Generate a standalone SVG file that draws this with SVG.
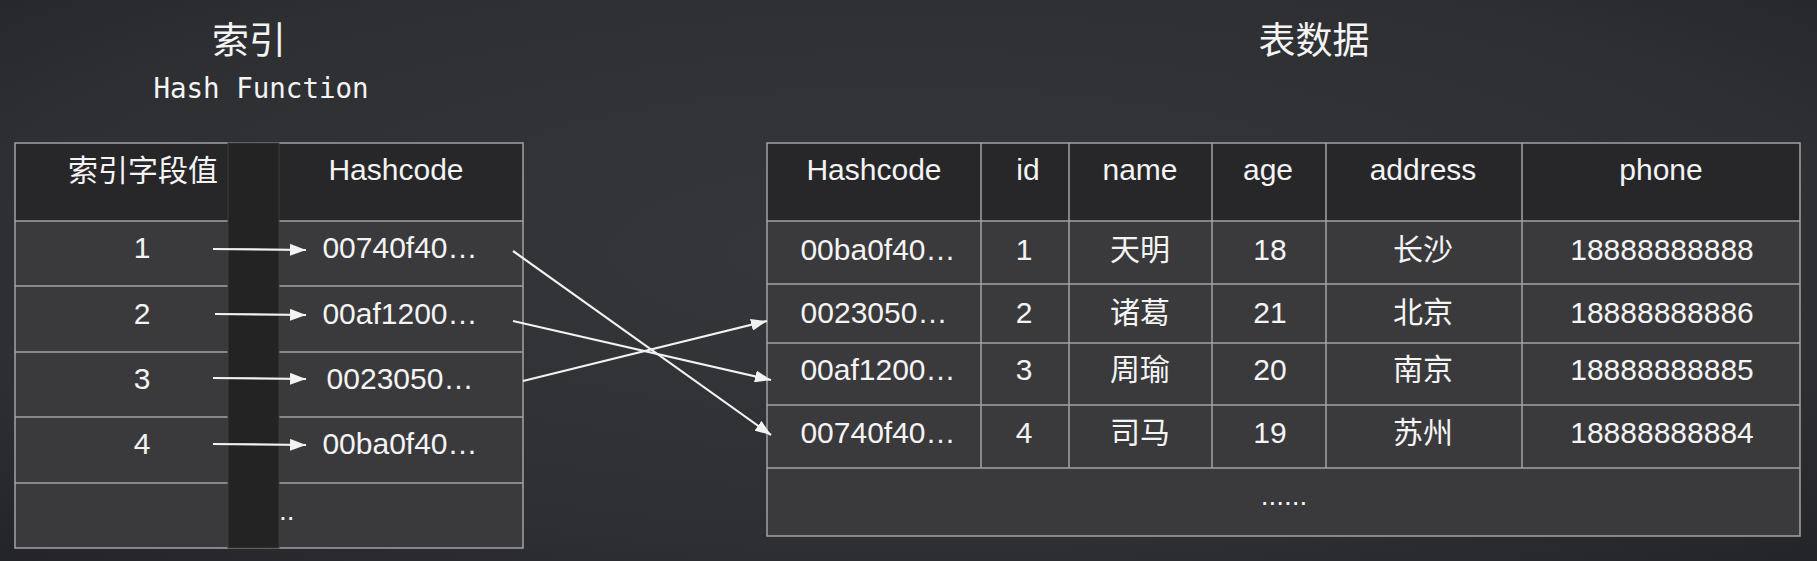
<svg xmlns="http://www.w3.org/2000/svg" width="1817" height="561" viewBox="0 0 1817 561">
<defs>
  <radialGradient id="bg" cx="50%" cy="45%" r="75%">
    <stop offset="0" stop-color="#36373b"/>
    <stop offset="0.7" stop-color="#2e2f33"/>
    <stop offset="1" stop-color="#232428"/>
  </radialGradient>
  <marker id="ah" markerWidth="16" markerHeight="12" refX="16" refY="6" orient="auto" markerUnits="userSpaceOnUse">
    <path d="M0,0 L16,6 L0,12 z" fill="#f2f2f2"/>
  </marker>
</defs>
<style>
  .hdr{fill:#27272a}
  .row{fill:#3a3a3d}
  .grid{stroke:#a3a3a6;stroke-width:1.5;fill:none}
  .t{font-family:"Liberation Sans",Arial,"Noto Sans CJK SC",sans-serif;font-size:30px;fill:#f4f4f4;text-anchor:middle}
  .title{font-family:"Noto Sans CJK SC",sans-serif;font-size:37px;fill:#f4f4f4;text-anchor:middle}
  .mono{font-family:"DejaVu Sans Mono",monospace;font-size:27.5px;fill:#f4f4f4;text-anchor:middle}
  .conn{stroke:#f2f2f2;stroke-width:2.2;fill:none;marker-end:url(#ah)}
  .bar{fill:#232323;stroke:#3c3c3c;stroke-width:1}
</style>
<rect width="1817" height="561" fill="url(#bg)"/>

<g id="title-index">
  <text class="title" x="249" y="54">索引</text>
  <text class="mono" x="261" y="98">Hash Function</text>
</g>
<g id="title-table">
  <text class="title" x="1314" y="54">表数据</text>
</g>

<g id="index-table">
  <rect class="hdr" x="15" y="143" width="508" height="78"/>
  <rect class="row" x="15" y="221" width="508" height="327"/>
  <rect class="grid" x="15" y="143" width="508" height="405"/>
  <path class="grid" d="M15,221H523M15,286H523M15,352H523M15,417H523M15,483H523"/>
  <g id="index-header">
    <text class="t" x="143" y="181">索引字段值</text>
    <text class="t" x="396" y="180">Hashcode</text>
  </g>
  <g id="index-row-1">
    <text class="t" x="142" y="258">1</text>
    <text class="t" x="400" y="258">00740f40…</text>
  </g>
  <g id="index-row-2">
    <text class="t" x="142" y="324">2</text>
    <text class="t" x="400" y="324">00af1200…</text>
  </g>
  <g id="index-row-3">
    <text class="t" x="142" y="389">3</text>
    <text class="t" x="400" y="389">0023050…</text>
  </g>
  <g id="index-row-4">
    <text class="t" x="142" y="454">4</text>
    <text class="t" x="400" y="454">00ba0f40…</text>
  </g>
  <g id="index-row-5">
    <text class="t" x="279" y="520" style="text-anchor:start;font-size:28px">..</text>
  </g>
</g>

<g id="hash-bar">
  <rect class="bar" x="228" y="143" width="51" height="405"/>
</g>

<g id="data-table">
  <rect class="hdr" x="767" y="143" width="1033" height="78"/>
  <rect class="row" x="767" y="221" width="1033" height="315"/>
  <rect class="grid" x="767" y="143" width="1033" height="393"/>
  <path class="grid" d="M767,221H1800M767,284H1800M767,343H1800M767,405H1800M767,468H1800"/>
  <path class="grid" d="M981,143V468M1069,143V468M1212,143V468M1326,143V468M1522,143V468"/>
  <g id="data-header">
    <text class="t" x="874" y="180">Hashcode</text>
    <text class="t" x="1028" y="180">id</text>
    <text class="t" x="1140" y="180">name</text>
    <text class="t" x="1268" y="180">age</text>
    <text class="t" x="1423" y="180">address</text>
    <text class="t" x="1661" y="180">phone</text>
  </g>
  <g id="data-row-1">
    <text class="t" x="878" y="260">00ba0f40…</text>
    <text class="t" x="1024" y="260">1</text>
    <text class="t" x="1140" y="260">天明</text>
    <text class="t" x="1270" y="260">18</text>
    <text class="t" x="1423" y="260">长沙</text>
    <text class="t" x="1662" y="260">18888888888</text>
  </g>
  <g id="data-row-2">
    <text class="t" x="874" y="323">0023050…</text>
    <text class="t" x="1024" y="323">2</text>
    <text class="t" x="1140" y="323">诸葛</text>
    <text class="t" x="1270" y="323">21</text>
    <text class="t" x="1423" y="323">北京</text>
    <text class="t" x="1662" y="323">18888888886</text>
  </g>
  <g id="data-row-3">
    <text class="t" x="878" y="380">00af1200…</text>
    <text class="t" x="1024" y="380">3</text>
    <text class="t" x="1140" y="380">周瑜</text>
    <text class="t" x="1270" y="380">20</text>
    <text class="t" x="1423" y="380">南京</text>
    <text class="t" x="1662" y="380">18888888885</text>
  </g>
  <g id="data-row-4">
    <text class="t" x="878" y="443">00740f40…</text>
    <text class="t" x="1024" y="443">4</text>
    <text class="t" x="1140" y="443">司马</text>
    <text class="t" x="1270" y="443">19</text>
    <text class="t" x="1423" y="443">苏州</text>
    <text class="t" x="1662" y="443">18888888884</text>
  </g>
  <g id="data-row-5">
    <text class="t" x="1284" y="505" style="font-size:28px">......</text>
  </g>
</g>

<g id="connectors">
  <line class="conn" x1="213" y1="249" x2="306" y2="250"/>
  <line class="conn" x1="215" y1="314" x2="306" y2="315"/>
  <line class="conn" x1="213" y1="378" x2="306" y2="379"/>
  <line class="conn" x1="213" y1="444" x2="306" y2="445"/>
  <line class="conn" x1="513" y1="251" x2="771" y2="435"/>
  <line class="conn" x1="513" y1="321" x2="771" y2="380"/>
  <line class="conn" x1="523" y1="381" x2="767" y2="321"/>
</g>
</svg>
